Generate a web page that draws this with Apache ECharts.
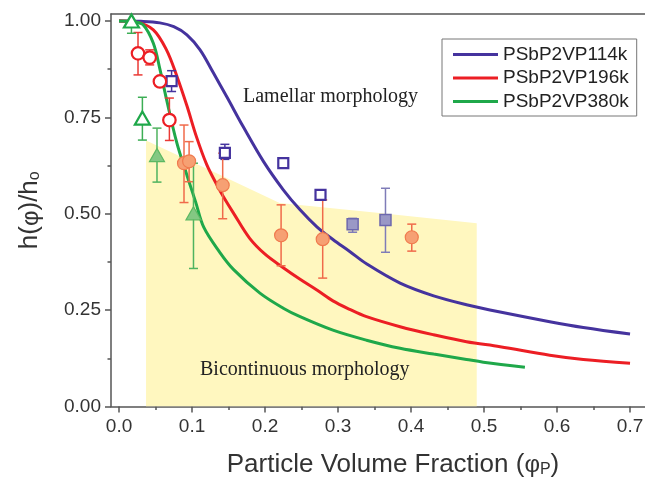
<!DOCTYPE html>
<html><head><meta charset="utf-8">
<script src="https://cdn.jsdelivr.net/npm/echarts@6/dist/echarts.min.js"></script>
<style>html,body{margin:0;padding:0;background:#fff}#c{width:645px;height:479px}</style>
</head><body><div id="c"></div>
<script>
// ---------- data ----------
const xTickValues = [0, 0.1, 0.2, 0.3, 0.4, 0.5, 0.6, 0.7];
const xMinorTickValues = [0.05, 0.15, 0.25, 0.35, 0.45, 0.55, 0.65];
const yTickValues = [0, 0.25, 0.5, 0.75, 1.0];
const yMinorTickValues = [0.125, 0.375, 0.625, 0.875];

const seriesNames = ['PSbP2VP114k', 'PSbP2VP196k', 'PSbP2VP380k'];

const curve114kPhi = [0, 0.03, 0.056, 0.075, 0.093, 0.111, 0.129, 0.148, 0.170, 0.198, 0.225, 0.248, 0.271, 0.293, 0.316, 0.339, 0.385, 0.431, 0.476, 0.522, 0.590, 0.636, 0.700];
const curve114kH   = [1.0, 0.999, 0.995, 0.985, 0.964, 0.925, 0.866, 0.802, 0.726, 0.635, 0.562, 0.510, 0.466, 0.433, 0.402, 0.370, 0.320, 0.287, 0.264, 0.245, 0.220, 0.205, 0.188];

const curve196kPhi = [0, 0.024, 0.047, 0.065, 0.079, 0.093, 0.106, 0.120, 0.134, 0.143, 0.157, 0.179, 0.200, 0.225, 0.248, 0.271, 0.293, 0.316, 0.339, 0.385, 0.431, 0.476, 0.522, 0.590, 0.636, 0.700];
const curve196kH   = [1.0, 0.997, 0.977, 0.925, 0.858, 0.780, 0.700, 0.628, 0.575, 0.544, 0.501, 0.436, 0.395, 0.360, 0.330, 0.302, 0.274, 0.252, 0.233, 0.207, 0.186, 0.168, 0.155, 0.133, 0.122, 0.112];

const curve380kPhi = [0, 0.020, 0.033, 0.047, 0.056, 0.065, 0.079, 0.093, 0.105, 0.116, 0.138, 0.157, 0.193, 0.225, 0.248, 0.293, 0.339, 0.385, 0.431, 0.476, 0.499, 0.556];
const curve380kH   = [1.0, 0.998, 0.990, 0.942, 0.875, 0.797, 0.685, 0.600, 0.530, 0.465, 0.400, 0.355, 0.294, 0.255, 0.233, 0.198, 0.172, 0.151, 0.136, 0.122, 0.115, 0.102];

// shaded bicontinuous region (upper boundary)
const regionPhi = [0.037, 0.13, 0.22, 0.35, 0.49];
const regionH   = [0.690, 0.608, 0.528, 0.503, 0.475];

// markers: phi, h, lower, upper
const open114kPhi = [0.072, 0.145, 0.225, 0.276];
const open114kH   = [0.844, 0.658, 0.631, 0.549];
const open114kLo  = [0.817, 0.641, 0.631, 0.549];
const open114kHi  = [0.871, 0.680, 0.631, 0.549];

const fill114kPhi = [0.320, 0.365];
const fill114kH   = [0.473, 0.484];
const fill114kLo  = [0.452, 0.400];
const fill114kHi  = [0.488, 0.566];

const open196kPhi = [0.026, 0.042, 0.056, 0.069];
const open196kH   = [0.916, 0.905, 0.843, 0.743];
const open196kLo  = [0.860, 0.886, 0.843, 0.690];
const open196kHi  = [0.970, 0.925, 0.843, 0.800];

const fill196kPhi = [0.089, 0.096, 0.142, 0.222, 0.279, 0.401];
const fill196kH   = [0.631, 0.636, 0.574, 0.444, 0.434, 0.439];
const fill196kLo  = [0.529, 0.583, 0.487, 0.365, 0.333, 0.403];
const fill196kHi  = [0.730, 0.687, 0.657, 0.523, 0.536, 0.473];

const open380kPhi = [0.017, 0.032];
const open380kH   = [1.000, 0.748];
const open380kLo  = [0.968, 0.691];
const open380kHi  = [1.000, 0.802];

const fill380kPhi = [0.052, 0.102];
const fill380kH   = [0.652, 0.501];
const fill380kLo  = [0.582, 0.358];
const fill380kHi  = [0.722, 0.631];

// ---------- styling ----------
const XMIN = -0.011, XMAX = 0.7205, YMIN = 0, YMAX = 1.018;
const BLUE = '#45339e', RED = '#ec1e24', GREEN = '#1fa84a';
const FONT = 'Liberation Sans';
const AXC = '#555';

const zip = (a, b) => a.map((v, i) => [v, b[i]]);
const zip4 = (a, b, c, d) => a.map((v, i) => [v, b[i], c[i], d[i]]);

function errSeries(data, color) {
  return {
    type: 'custom', z: 4, silent: true, clip: false,
    data: data,
    encode: { x: 0, y: [2, 3] },
    renderItem: function (params, api) {
      const x = api.value(0), lo = api.value(2), hi = api.value(3);
      if (hi - lo < 1e-9) return null;
      const p1 = api.coord([x, lo]), p2 = api.coord([x, hi]);
      const cw = 4.5;
      const st = { stroke: color, lineWidth: 1.5 };
      return { type: 'group', children: [
        { type: 'line', shape: { x1: p1[0], y1: p1[1], x2: p2[0], y2: p2[1] }, style: st },
        { type: 'line', shape: { x1: p1[0] - cw, y1: p1[1], x2: p1[0] + cw, y2: p1[1] }, style: st },
        { type: 'line', shape: { x1: p2[0] - cw, y1: p2[1], x2: p2[0] + cw, y2: p2[1] }, style: st }
      ]};
    }
  };
}
function markerSeries(data, symbol, size, fill, border, bw) {
  return {
    type: 'scatter', z: 5, silent: true, clip: false,
    data: data, symbol: symbol, symbolSize: size,
    itemStyle: { color: fill, borderColor: border, borderWidth: bw, opacity: 1 }
  };
}
function curveSeries(name, x, y, color) {
  return {
    name: name, type: 'line', z: 3, data: zip(x, y), symbol: 'none', showSymbol: false,
    smooth: 0.35, silent: true, clip: true,
    lineStyle: { color: color, width: 3 }, itemStyle: { color: color }
  };
}
const titleRich = {
  t: { fontSize: 26, fontFamily: FONT, color: '#333', lineHeight: 31, verticalAlign: 'bottom' },
  p: { fontSize: 24, fontFamily: FONT, color: '#333', lineHeight: 30, verticalAlign: 'bottom' },
  s: { fontSize: 16, fontFamily: FONT, color: '#333', lineHeight: 13, verticalAlign: 'bottom' }
};

const chart = echarts.init(document.getElementById('c'), null, { renderer: 'canvas' });
const option = {
  animation: false,
  backgroundColor: '#fff',
  grid: { left: 111, right: 0, top: 14, bottom: 72.5, containLabel: false, outerBoundsMode: 'none' },
  legend: {
    data: seriesNames, orient: 'vertical', left: 442, top: 39, icon: 'rect',
    padding: [6, 8, 5, 11], itemGap: 4.5, itemWidth: 45, itemHeight: 3,
    borderColor: '#777', borderWidth: 1, backgroundColor: '#fff',
    textStyle: { fontSize: 19, fontFamily: FONT, color: '#222', lineHeight: 19 }
  },
  xAxis: [
    {
      type: 'value', min: XMIN, max: XMAX, position: 'bottom',
      axisLine: { show: true, onZero: false, lineStyle: { color: AXC, width: 1.5 } },
      axisTick: { show: true, length: 6, customValues: xTickValues, lineStyle: { color: AXC, width: 1.5 } },
      axisLabel: { customValues: xTickValues, formatter: v => v.toFixed(1), fontSize: 19, fontFamily: FONT, color: '#333', margin: 11 },
      splitLine: { show: false },
      name: '{t|Particle Volume Fraction (}{p|φ}{s|P}{t|)}',
      nameLocation: 'middle', nameGap: 40,
      nameTextStyle: { color: '#333', fontFamily: FONT, rich: titleRich, padding: [0, 0, 0, 30] }
    },
    {
      type: 'value', min: XMIN, max: XMAX, position: 'bottom',
      axisLine: { show: false, onZero: false },
      axisTick: { show: true, length: 3.5, customValues: xMinorTickValues, lineStyle: { color: AXC, width: 1.5 } },
      axisLabel: { show: false }, splitLine: { show: false }
    },
    {
      type: 'value', min: XMIN, max: XMAX, position: 'top',
      axisLine: { show: true, onZero: false, lineStyle: { color: AXC, width: 1.5 } },
      axisTick: { show: false }, axisLabel: { show: false }, splitLine: { show: false }
    }
  ],
  yAxis: [
    {
      type: 'value', min: YMIN, max: YMAX, position: 'left',
      axisLine: { show: true, onZero: false, lineStyle: { color: AXC, width: 1.5 } },
      axisTick: { show: true, length: 6, customValues: yTickValues, lineStyle: { color: AXC, width: 1.5 } },
      axisLabel: { customValues: yTickValues, formatter: v => v.toFixed(2), fontSize: 19, fontFamily: FONT, color: '#333', margin: 10 },
      splitLine: { show: false },
      name: '{t|h(}{p|φ}{t|)/h}{s|o}',
      nameLocation: 'middle', nameRotate: 90, nameGap: 68,
      nameTextStyle: { color: '#333', fontFamily: FONT, rich: titleRich }
    },
    {
      type: 'value', min: YMIN, max: YMAX, position: 'left',
      axisLine: { show: false, onZero: false },
      axisTick: { show: true, length: 3.5, customValues: yMinorTickValues, lineStyle: { color: AXC, width: 1.5 } },
      axisLabel: { show: false }, splitLine: { show: false }
    }
  ],
  graphic: [
    { type: 'text', left: 243, top: 87, z: 10, silent: true,
      style: { text: 'Lamellar morphology', font: '20px "Liberation Serif"', fill: '#222' } },
    { type: 'text', left: 200, top: 360, z: 10, silent: true,
      style: { text: 'Bicontinuous morphology', font: '20px "Liberation Serif"', fill: '#222' } }
  ],
  series: [
    {
      type: 'line', z: 1, silent: true, data: zip(regionPhi, regionH), symbol: 'none',
      lineStyle: { width: 0, opacity: 0 }, areaStyle: { color: '#fff7bf', opacity: 1 }
    },
    curveSeries(seriesNames[0], curve114kPhi, curve114kH, BLUE),
    curveSeries(seriesNames[1], curve196kPhi, curve196kH, RED),
    curveSeries(seriesNames[2], curve380kPhi, curve380kH, GREEN),
    errSeries(zip4(open114kPhi, open114kH, open114kLo, open114kHi), BLUE),
    errSeries(zip4(fill114kPhi, fill114kH, fill114kLo, fill114kHi), '#7f7cb8'),
    errSeries(zip4(open196kPhi, open196kH, open196kLo, open196kHi), '#ea3a35'),
    errSeries(zip4(fill196kPhi, fill196kH, fill196kLo, fill196kHi), '#f06a4a'),
    errSeries(zip4(open380kPhi, open380kH, open380kLo, open380kHi), '#3cae55'),
    errSeries(zip4(fill380kPhi, fill380kH, fill380kLo, fill380kHi), '#4fb35f'),
    markerSeries(zip(open114kPhi, open114kH), 'rect', 10, '#ffffff', BLUE, 2.2),
    markerSeries(zip(fill114kPhi, fill114kH), 'rect', 11, '#9a98c6', '#6d68ae', 1.5),
    markerSeries(zip(open196kPhi, open196kH), 'circle', 12.5, '#ffffff', RED, 2.2),
    markerSeries(zip(fill196kPhi, fill196kH), 'circle', 13, '#f6a073', '#f07a4e', 1.2),
    markerSeries(zip(open380kPhi, open380kH), 'triangle', [15, 13], '#ffffff', GREEN, 2.2),
    markerSeries(zip(fill380kPhi, fill380kH), 'triangle', [15, 13], '#84c883', '#5cb862', 1.2)
  ]
};
chart.setOption(option);
</script>
</body></html>
